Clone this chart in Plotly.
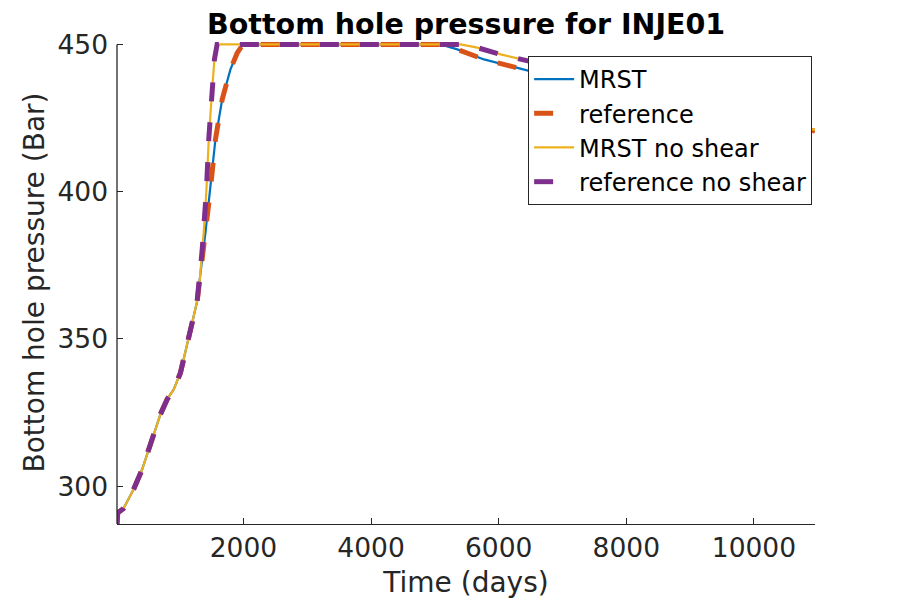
import plotly.graph_objects as go

# ---- data ----
t_mrst = [30, 118, 279, 411, 568, 698, 803, 907, 1012, 1142, 1169, 1274, 1316, 1352, 1404,
          1482, 1561, 1666, 1796, 1900, 1990, 3000, 4000, 5090, 5352, 5770, 6188, 6475,
          7000, 8000, 9000, 10000, 10957]
p_mrst = [290.5, 292.4, 299.0, 305.7, 315.9, 324.4, 329.5, 332.9, 338.5, 350.0, 353.0, 362.8,
          369.5, 377.0, 386.0, 400.8, 417.8, 431.3, 441.5, 447.0, 450.0, 450.0, 450.0, 450.0,
          448.3, 444.9, 442.6, 441.0, 438.6, 433.6, 428.8, 424.5, 420.6]

t_ref = [18, 30, 118, 279, 411, 568, 698, 803, 907, 1012, 1142, 1274, 1352, 1404, 1482, 1561,
         1666, 1796, 1900, 1990, 5090, 5352, 5770, 6188, 6475, 7000, 8000, 9000, 10000, 10957]
p_ref = [287.2, 291.0, 292.4, 299.0, 305.7, 315.9, 324.4, 329.5, 332.9, 338.5, 350.0, 362.8,
         377.0, 386.0, 400.8, 417.8, 431.3, 441.5, 447.0, 450.0, 450.0, 448.3, 444.9, 442.6,
         441.0, 438.6, 433.6, 428.8, 424.5, 420.6]

t_mrst_ns = [30, 118, 279, 411, 568, 698, 803, 907, 1012, 1142, 1169, 1274, 1316, 1352, 1378,
             1420, 1456, 1509, 1545, 1587, 3000, 4000, 5404, 5665, 6031, 6475, 7000, 8000,
             9000, 10000, 10957]
p_mrst_ns = [290.5, 292.4, 299.0, 305.7, 315.9, 324.4, 329.5, 332.9, 338.5, 350.0, 353.0, 362.8,
             370.2, 380.0, 386.5, 400.8, 417.8, 434.7, 444.9, 450.0, 450.0, 450.0, 450.0, 448.9,
             446.6, 444.3, 441.3, 435.5, 430.0, 425.2, 421.0]

t_ref_ns = [18, 30, 118, 279, 411, 568, 698, 803, 907, 1012, 1142, 1274, 1352, 1378, 1420,
            1456, 1509, 1545, 1587, 5404, 5665, 6031, 6475, 7000, 8000, 9000, 10000, 10957]
p_ref_ns = [287.2, 291.0, 292.4, 299.0, 305.7, 315.9, 324.4, 329.5, 332.9, 338.5, 350.0, 362.8,
            380.0, 386.5, 400.8, 417.8, 434.7, 444.9, 450.0, 450.0, 448.9, 446.6, 444.3, 441.3,
            435.5, 430.0, 425.2, 421.0]

x_ticks = [2000, 4000, 6000, 8000, 10000]
y_ticks = [300, 350, 400, 450]

names = ["MRST", "reference", "MRST no shear", "reference no shear"]
colors = ["#0072BD", "#D95319", "#EDB120", "#7E2F8E"]

AX = "#262626"
FONT = "DejaVu Sans"
TICK = 26.5

fig = go.Figure()
fig.add_trace(go.Scatter(x=t_mrst, y=p_mrst, mode="lines", name=names[0],
                         line=dict(color=colors[0], width=2.2)))
fig.add_trace(go.Scatter(x=t_ref, y=p_ref, mode="lines", name=names[1],
                         line=dict(color=colors[1], width=5, dash="19px,21px")))
fig.add_trace(go.Scatter(x=t_mrst_ns, y=p_mrst_ns, mode="lines", name=names[2],
                         line=dict(color=colors[2], width=2.2)))
fig.add_trace(go.Scatter(x=t_ref_ns, y=p_ref_ns, mode="lines", name=names[3],
                         line=dict(color=colors[3], width=5, dash="19px,21px")))

y_lo, y_hi = 287.2, 451.15

# left axis line stops at 450 (top of data range in the original)
fig.add_shape(type="line", xref="paper", yref="y", x0=0, x1=0, y0=y_lo, y1=450,
              line=dict(color=AX, width=1.3))

fig.update_layout(
    width=900, height=600,
    paper_bgcolor="white", plot_bgcolor="white",
    margin=dict(l=109, r=93, t=33, b=84),
    font=dict(family=FONT, color=AX, size=24),
    title=dict(text="<b>Bottom hole pressure for INJE01</b>", x=0.509, xanchor="center",
               y=0.9733, yanchor="middle",
               font=dict(family=FONT, size=28.5, color="black")),
    showlegend=True,
    legend=dict(x=0.589, y=0.969, xanchor="left", yanchor="top",
                bgcolor="white", bordercolor=AX, borderwidth=1,
                font=dict(family=FONT, size=24, color="black"),
                tracegroupgap=0, itemwidth=40),
    xaxis=dict(range=[18, 10957], tickvals=x_ticks, ticktext=[str(v) for v in x_ticks],
               showgrid=False, zeroline=False, showline=True, linecolor=AX, linewidth=1.3,
               ticks="inside", ticklen=6, tickcolor=AX, tickwidth=1,
               tickfont=dict(size=TICK, color=AX),
               title=dict(text="Time (days)", font=dict(size=28, color=AX), standoff=10)),
    yaxis=dict(range=[y_lo, y_hi], tickvals=y_ticks, ticktext=[str(v) for v in y_ticks],
               showgrid=False, zeroline=False, showline=False,
               ticks="inside", ticklen=6, tickcolor=AX, tickwidth=1,
               ticklabelstandoff=8,
               tickfont=dict(size=TICK, color=AX),
               title=dict(text="Bottom hole pressure (Bar)", font=dict(size=28, color=AX),
                          standoff=4)),
)

fig.write_html("out.html")
